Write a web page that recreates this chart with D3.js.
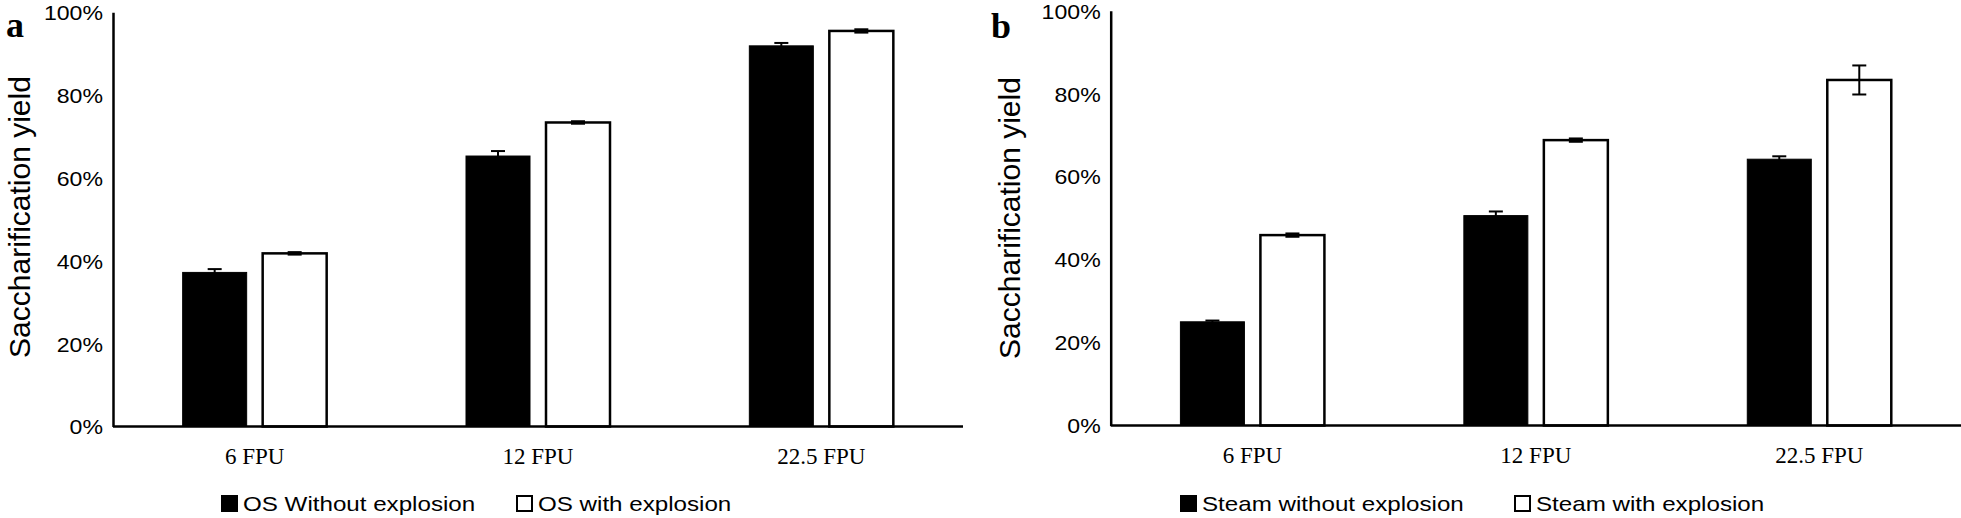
<!DOCTYPE html>
<html>
  <head>
    <meta charset="utf-8" />
    <style>
      body { margin: 0; background: #fff; }
      svg { display: block; }
      .tick text { font-family: "Liberation Sans", Arial, sans-serif; font-size: 21px; fill: #000; }
      .cat { font-family: "Liberation Serif", "Times New Roman", serif; font-size: 23px; fill: #000; }
      .ylab { font-family: "Liberation Sans", Arial, sans-serif; font-size: 30px; fill: #000; }
      .leg { font-family: "Liberation Sans", Arial, sans-serif; font-size: 21px; fill: #000; }
      .plabel { font-family: "Liberation Serif", "Times New Roman", serif; font-size: 36px; font-weight: bold; fill: #000; }
    </style>
  </head>
  <body>
    <svg width="1961" height="518"></svg>
    <script src="https://cdn.jsdelivr.net/npm/d3@7"></script>
    <script>
      // values (percent)
      var categories = ["6 FPU", "12 FPU", "22.5 FPU"];
      var yTicks = [0, 20, 40, 60, 80, 100];

      var osWithout = [37.2, 65.3, 91.9];
      var osWithoutErr = [0.8, 1.2, 0.7];
      var osWith = [41.8, 73.4, 95.5];
      var osWithErr = [0.3, 0.3, 0.4];

      var steamWithout = [25.0, 50.6, 64.2];
      var steamWithoutErr = [0.3, 1.0, 0.7];
      var steamWith = [45.9, 68.8, 83.3];
      var steamWithErr = [0.4, 0.4, 3.5];

      var svg = d3.select("svg");

      // widen text a bit to match the original's wider glyphs
      function stretch(sel, f) {
        sel.each(function () {
          var w = this.getComputedTextLength();
          d3.select(this).attr("textLength", w * f).attr("lengthAdjust", "spacingAndGlyphs");
        });
      }

      function drawPanel(p) {
        var g = svg.append("g");

        var x = d3.scaleBand().domain(categories).range([p.x0, p.x1]);
        var y = d3.scaleLinear().domain([0, 100]).range([p.yBottom, p.yTop]);
        var sub = d3.scaleBand()
          .domain([0, 1])
          .range([x.bandwidth() / 2 - 80, x.bandwidth() / 2 + 80])
          .paddingInner(0.2)
          .paddingOuter(0.1);

        var series = [
          { name: p.names[0], vals: p.without, errs: p.withoutErr, fill: "#000" },
          { name: p.names[1], vals: p.with, errs: p.withErr, fill: "#fff" }
        ];

        series.forEach(function (s, si) {
          var rows = categories.map(function (c, i) {
            return { cat: c, v: s.vals[i], e: s.errs[i] };
          });
          var bx = function (d) { return x(d.cat) + sub(si); };

          g.append("g").selectAll("rect")
            .data(rows)
            .enter()
            .append("rect")
            .attr("x", bx)
            .attr("y", function (d) { return y(d.v); })
            .attr("width", sub.bandwidth())
            .attr("height", function (d) { return y(0) - y(d.v); })
            .attr("fill", s.fill)
            .attr("stroke", "#000")
            .attr("stroke-width", si ? 2.5 : 1);

          var eb = g.append("g").attr("stroke", "#000").attr("stroke-width", 2);
          rows.forEach(function (d) {
            var cx = bx(d) + sub.bandwidth() / 2;
            eb.append("line").attr("x1", cx).attr("x2", cx)
              .attr("y1", y(d.v + d.e)).attr("y2", y(d.v - d.e));
            [d.v + d.e, d.v - d.e].forEach(function (v) {
              eb.append("line").attr("x1", cx - 7).attr("x2", cx + 7)
                .attr("y1", y(v)).attr("y2", y(v));
            });
          });
        });

        // y axis
        var ya = g.append("g")
          .attr("transform", "translate(" + p.x0 + ",0)")
          .call(d3.axisLeft(y).tickValues(yTicks).tickSize(0).tickPadding(10)
            .tickFormat(function (d) { return d + "%"; }));
        ya.select(".domain").attr("stroke", "#000").attr("stroke-width", 2.5);
        ya.selectAll(".tick text").attr("dy", "0.35em");
        stretch(ya.selectAll(".tick text"), 1.1);

        // x axis line
        g.append("line")
          .attr("x1", p.x0).attr("x2", p.x1)
          .attr("y1", y(0)).attr("y2", y(0))
          .attr("stroke", "#000").attr("stroke-width", 2.5);

        g.append("g").selectAll("text")
          .data(categories)
          .enter()
          .append("text")
          .attr("class", "cat")
          .attr("text-anchor", "middle")
          .attr("x", function (d) { return x(d) + x.bandwidth() / 2; })
          .attr("y", p.yBottom + 37)
          .text(function (d) { return d; });

        g.append("text")
          .attr("class", "ylab")
          .attr("text-anchor", "middle")
          .attr("transform", "translate(" + p.ylabX + "," + p.ylabY + ") rotate(-90)")
          .text("Saccharification yield");

        g.append("text")
          .attr("class", "plabel")
          .attr("x", p.labelX)
          .attr("y", p.labelY)
          .text(p.label);

        // legend
        var lg = g.append("g");
        series.forEach(function (s, si) {
          var lx = p.legX[si];
          lg.append("rect")
            .attr("x", lx).attr("y", 496)
            .attr("width", 15).attr("height", 15)
            .attr("fill", s.fill).attr("stroke", "#000").attr("stroke-width", 2);
          var t = lg.append("text")
            .attr("class", "leg")
            .attr("x", lx + 21)
            .attr("y", 511)
            .text(s.name);
          stretch(t, 1.15);
        });
      }

      drawPanel({
        x0: 113, x1: 963, yBottom: 426.5, yTop: 12.3,
        names: ["OS Without explosion", "OS with explosion"],
        without: osWithout, withoutErr: osWithoutErr,
        with: osWith, withErr: osWithErr,
        ylabX: 30, ylabY: 217, label: "a", labelX: 6, labelY: 37,
        legX: [222, 517]
      });

      drawPanel({
        x0: 1110.7, x1: 1961, yBottom: 425.5, yTop: 10.7,
        names: ["Steam without explosion", "Steam with explosion"],
        without: steamWithout, withoutErr: steamWithoutErr,
        with: steamWith, withErr: steamWithErr,
        ylabX: 1020, ylabY: 218, label: "b", labelX: 991, labelY: 38,
        legX: [1181, 1515]
      });
    </script>
  </body>
</html>
